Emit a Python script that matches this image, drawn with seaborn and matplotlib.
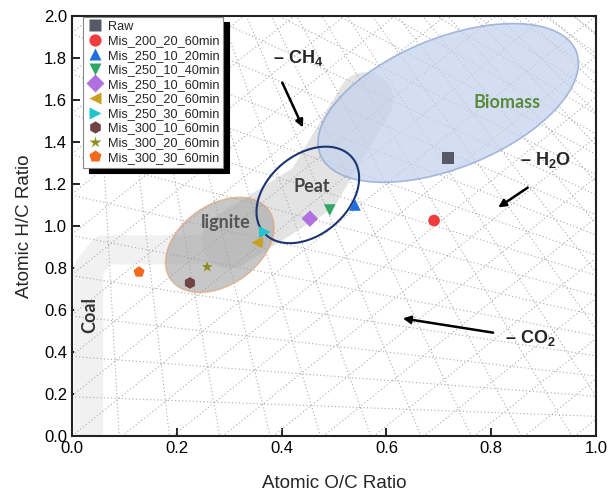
import numpy as np
import pandas as pd
import matplotlib
matplotlib.use("Agg")
import matplotlib.pyplot as plt
import seaborn as sns
from matplotlib.patches import Ellipse
from matplotlib.transforms import Affine2D

# ---------------- DATA ----------------
samples = ["Raw", "Mis_200_20_60min", "Mis_250_10_20min", "Mis_250_10_40min",
           "Mis_250_10_60min", "Mis_250_20_60min", "Mis_250_30_60min",
           "Mis_300_10_60min", "Mis_300_20_60min", "Mis_300_30_60min"]
oc_ratio = [0.718, 0.691, 0.540, 0.492, 0.454, 0.353, 0.368, 0.225, 0.258, 0.128]
hc_ratio = [1.324, 1.026, 1.100, 1.076, 1.035, 0.921, 0.971, 0.729, 0.805, 0.781]
colors = ["#555a66", "#f03c3c", "#1f6fe0", "#2ea864", "#b070e0",
          "#c9a020", "#20c4cc", "#704444", "#8c8c1e", "#f2691c"]
markers = ["s", "o", "^", "v", "D", "<", ">", "h", "*", "p"]

df = pd.DataFrame({"O/C": oc_ratio, "H/C": hc_ratio, "Sample": samples})

# ---------------- STYLE ----------------
sns.set_style("ticks", {"xtick.direction": "in", "ytick.direction": "in"})
plt.rcParams["font.family"] = ["Liberation Sans", "DejaVu Sans"]
plt.rcParams["mathtext.fontset"] = "custom"
plt.rcParams["mathtext.bf"] = "Liberation Sans:bold"
plt.rcParams["mathtext.rm"] = "Liberation Sans:bold"
plt.rcParams["mathtext.default"] = "bf"

fig = plt.figure(figsize=(6.08, 5.0), dpi=100)
ax = fig.add_axes([72 / 608, 64 / 500, 524 / 608, 420 / 500])

# pixel-like scale of the data units (x: 524 px per unit, y: 210 px per unit)
SX, SY = 524.0, 210.0

# ---------------- VAN KREVELEN LINES ----------------
grid_kw = dict(color="#ababab", lw=0.8, ls=(0, (1, 2.2)), zorder=2)
for k in range(1, 26):          # decarboxylation lines -> (2, 0)
    c = 0.192 * k - 0.005
    ax.plot([0, 2], [c, 0], **grid_kw)
for j in range(1, 24):          # demethanation lines -> (0, 4)
    d = 0.096 * j - 0.006
    ax.plot([0, d], [4, 0], **grid_kw)
for m in range(-12, 12):        # dehydration lines, slope 2
    b = 0.192 * m
    ax.plot([0, 1.2], [b, b + 2.4], **grid_kw)

# ---------------- COALIFICATION BAND ----------------
ax.plot([0.032, 0.032, 0.06, 0.30], [0.03, 0.80, 0.886, 0.886],
        color="#f1f1f1", lw=21, solid_capstyle="round",
        solid_joinstyle="round", zorder=1)
ax.plot([0.30, 0.46, 0.56], [0.93, 1.18, 1.60],
        color="#e3e3e3", lw=40, solid_capstyle="round",
        solid_joinstyle="round", zorder=1)


def region(cx, cy, a, b, ang, **kw):
    e = Ellipse((0, 0), 2 * a, 2 * b, angle=ang, **kw)
    e.set_transform(Affine2D().scale(1 / SX, 1 / SY).translate(cx, cy) + ax.transData)
    ax.add_patch(e)


region(0.718, 1.586, 138, 65, 22, facecolor="#c5d3ee", edgecolor="#8ea5cf",
       lw=1.2, alpha=0.75, zorder=3)
region(0.282, 0.910, 60, 40, 35, facecolor="#a2a2a2", edgecolor="#e0a070",
       lw=1.2, alpha=0.6, zorder=3)
region(0.450, 1.148, 58, 40, 40, facecolor="none", edgecolor="#1c3570",
       lw=1.5, zorder=4)

# ---------------- POINTS ----------------
sns.scatterplot(data=df, x="O/C", y="H/C", hue="Sample", style="Sample",
                palette=colors, markers=markers, s=70, edgecolor="none",
                ax=ax, zorder=5)

# ---------------- LABELS ----------------
zone_font = dict(family=["Lato", "DejaVu Sans"], fontweight="bold", fontsize=13,
                 ha="center", va="center", zorder=6)
ax.text(0.830, 1.586, "Biomass", color="#5a8a3a", **zone_font)
ax.text(0.458, 1.186, "Peat", color="#444444", **zone_font)
ax.text(0.294, 1.019, "lignite", color="#555555", **zone_font)
ax.text(0.034, 0.576, "Coal", color="#333333", rotation=90, **zone_font)

arrow_kw = dict(arrowstyle="-|>", lw=1.8, color="black", mutation_scale=11)
ax.text(0.431, 1.80, "– CH$_4$", fontsize=13, fontweight="bold", ha="center", va="center")
ax.annotate("", xy=(0.443, 1.457), xytext=(0.399, 1.695), arrowprops=arrow_kw)
ax.text(0.903, 1.314, "– H$_2$O", fontsize=13, fontweight="bold", ha="center", va="center")
ax.annotate("", xy=(0.809, 1.081), xytext=(0.874, 1.190), arrowprops=arrow_kw)
ax.text(0.874, 0.467, "– CO$_2$", fontsize=13, fontweight="bold", ha="center", va="center")
ax.annotate("", xy=(0.626, 0.562), xytext=(0.809, 0.490), arrowprops=arrow_kw)

ax.set_xlim(0, 1.0)
ax.set_ylim(0, 2.0)
ax.set_xticks(np.arange(0, 1.01, 0.2))
ax.set_yticks(np.arange(0, 2.01, 0.2))
ax.xaxis.set_major_formatter(matplotlib.ticker.FormatStrFormatter("%.1f"))
ax.yaxis.set_major_formatter(matplotlib.ticker.FormatStrFormatter("%.1f"))
ax.tick_params(labelsize=12, length=6, width=1.2, colors="black")
for sp in ax.spines.values():
    sp.set_linewidth(1.5)
    sp.set_color("#222222")
ax.set_xlabel("Atomic O/C Ratio", fontsize=13.5, labelpad=14)
ax.set_ylabel("Atomic H/C Ratio", fontsize=13.5, labelpad=8)

leg = ax.legend(loc="upper left", bbox_to_anchor=(0.021, 0.998), borderaxespad=0,
                fontsize=9.2, labelspacing=0.2, handletextpad=0.35, handlelength=1.3,
                borderpad=0.3, frameon=True, fancybox=False, markerscale=1.05,
                shadow={"color": "black", "alpha": 1, "ox": 4, "oy": -4})
leg.get_frame().set_edgecolor("#888888")
leg.get_frame().set_linewidth(0.8)
leg.set_zorder(7)

plt.savefig("out.png", dpi=100)
